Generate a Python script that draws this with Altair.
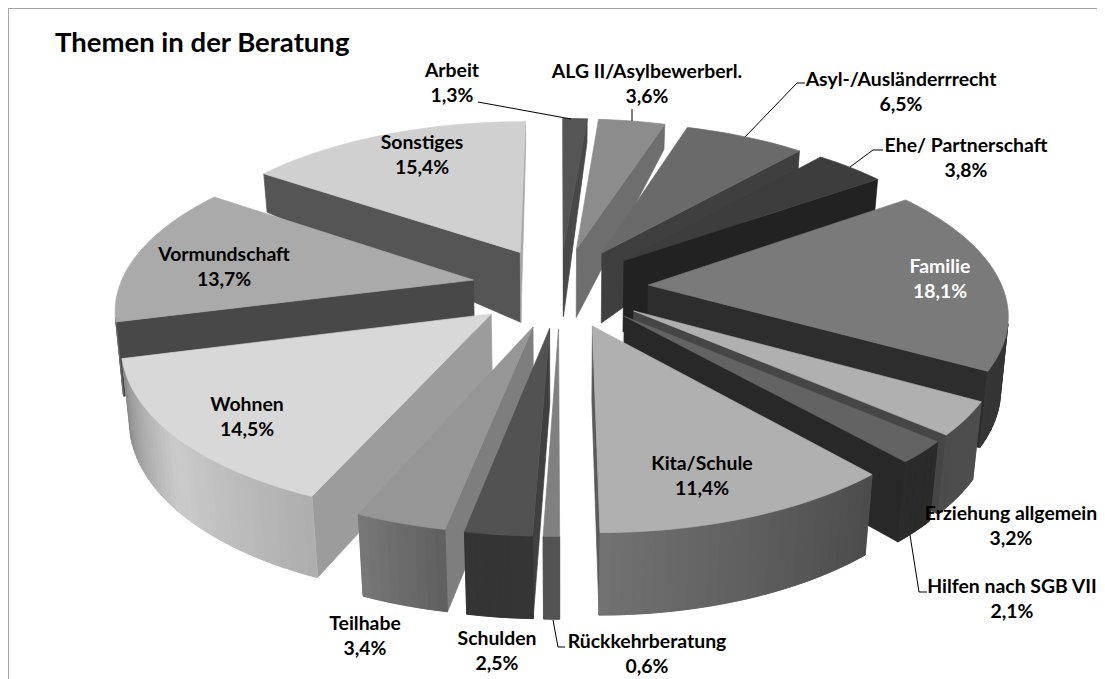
import math
import numpy as np
import pandas as pd
import altair as alt

names = ["Arbeit", "ALG II/Asylbewerberl.", "Asyl-/Ausländerrrecht", "Ehe/ Partnerschaft", "Familie",
         "Erziehung allgemein", "Hilfen nach SGB VII", "Kita/Schule", "Rückkehrberatung", "Schulden",
         "Teilhabe", "Wohnen", "Vormundschaft", "Sonstiges"]
values = [1.3, 3.6, 6.5, 3.8, 18.1, 3.2, 2.1, 11.4, 0.6, 2.5, 3.4, 14.5, 13.7, 15.4]
top_grey = [0x55, 0x8c, 0x6a, 0x3d, 0x7a, 0xb0, 0x63, 0xb0, 0x80, 0x52, 0x96, 0xd8, 0xaa, 0xd0]
start_cut_grey = [0x48, 0x70, 0x50, 0x30, 0x50, 0x60, 0x40, 0x60, 0x60, 0x40, 0x7e, 0x9c, 0x48, 0x55]
end_cut_grey = [0x48, 0x6e, 0x3f, 0x22, 0x2d, 0x46, 0x28, 0x5a, 0x60, 0x3c, 0x70, 0x90, 0x60, 0xa8]

label_x = [452, 647, 901, 966, 940, 1011, 1012, 702, 647, 497, 365, 247, 224, 422]
label_y = [71, 72, 80, 146, 267, 514, 587, 464, 642, 639, 624, 405, 255, 143]
label_ink = ["#000000"] * 14
label_ink[4] = "#ffffff"

leaders = [[(478, 102), (571, 119)],
           [(632, 109), (632, 121)],
           [(805, 83), (797, 83), (745, 137)],
           [(883, 150), (873, 150), (850, 167)],
           [(910, 535), (919, 592), (927, 592)],
           [(553, 620), (558, 647), (565, 647)]]

# projection of the exploded tilted pie
CX, CY, RX, RY, K, EXPL = 560, 287, 354, 161, 0.155, 0.25


def project(u, v):
    s = 1 / (1 - K * v)
    return CX + RX * u * s, CY + RY * v * s


def rim_depth(v):
    return float(np.interp(v, [-1.3, -0.77, -0.2, 1.3], [22, 39, 71, 83]))


def point(u, v):
    x, y = project(u, v)
    d = rim_depth(v)
    shrink = np.interp(v, [-1.3, 1.3], [0.008, 0.024])
    return (x, y), (x - (x - CX) * shrink, y + d)


def shade(deg):
    return float(np.interp(deg, [0, 90, 120, 139, 180, 191, 203, 230, 255, 270, 360],
                           [.5, .42, .44, .43, .65, .63, .8, .94, .63, .5, .5]))


def grey(g):
    g = int(max(0, min(255, round(g))))
    return f"#{g:02x}{g:02x}{g:02x}"


def area(p):
    return sum(p[i][0] * p[(i + 1) % len(p)][1] - p[(i + 1) % len(p)][0] * p[i][1] for i in range(len(p))) / 2


edges = np.cumsum([0] + values) / sum(values) * 360
slices = []
for i in range(len(values)):
    a0, a1 = edges[i], edges[i + 1]
    mid = math.radians((a0 + a1) / 2)
    bu, bv = EXPL * math.sin(mid), -EXPL * math.cos(mid)
    n = max(2, int((a1 - a0) / 1.5) + 1)
    angs = np.linspace(a0, a1, n + 1)
    tops, bots = [], []
    for a in angs:
        t = math.radians(a)
        pt, pb = point(bu + math.sin(t), bv - math.cos(t))
        tops.append(pt)
        bots.append(pb)
    tip_t, tip_b = point(bu, bv)
    polys = []
    sq = [tip_t, tops[0], bots[0], tip_b]
    if area(sq) < 0:
        polys.append((sq, grey(start_cut_grey[i])))
    eq = [tip_t, tops[-1], bots[-1], tip_b]
    if area(eq) > 0:
        polys.append((eq, grey(end_cut_grey[i])))
    quads = []
    for j in range(n):
        q = [tops[j], tops[j + 1], bots[j + 1], bots[j]]
        if area(q) < 0:
            quads.append((j, q))
    if quads:
        j0, j1 = quads[0][0], quads[-1][0] + 1
        back = tops[j0:j1 + 1] + bots[j0:j1 + 1][::-1]
        polys.append((back, grey(top_grey[i] * shade((angs[j0] + angs[j1]) / 2))))
    for j, q in quads:
        polys.append((q, grey(top_grey[i] * shade((angs[j] + angs[j + 1]) / 2))))
    polys.append(([tip_t] + tops, grey(top_grey[i])))
    slices.append((-math.cos(mid), polys))

rows = []
pid = 0
for _, polys in sorted(slices, key=lambda s: s[0]):
    for pts, col in polys:
        for k, (x, y) in enumerate(pts):
            rows.append({"poly": f"p{pid:05d}", "k": k, "x": x, "y": y, "c": col})
        pid += 1
faces = pd.DataFrame(rows)

X = alt.X("x:Q", scale=alt.Scale(domain=[8, 1097]), axis=None)
Y = alt.Y("y:Q", scale=alt.Scale(domain=[679, 8]), axis=None)

pie = alt.Chart(faces).mark_line(interpolate="linear-closed", strokeWidth=0.7, clip=True).encode(
    x=X, y=Y, detail="poly:N", order="k:Q",
    color=alt.Color("c:N", scale=None), fill=alt.Fill("c:N", scale=None))

lead_rows = []
for i, path in enumerate(leaders):
    for k, (x, y) in enumerate(path):
        lead_rows.append({"l": f"l{i}", "k": k, "x": x, "y": y})
lead = alt.Chart(pd.DataFrame(lead_rows)).mark_line(color="#000000", strokeWidth=1).encode(
    x=X, y=Y, detail="l:N", order="k:Q")

labels = pd.DataFrame({
    "x": label_x, "y": label_y, "ink": label_ink,
    "t": [f"{n}\n{str(v).replace('.', ',')}%" for n, v in zip(names, values)]})
text = alt.Chart(labels).mark_text(font="Lato", fontWeight="bold", fontSize=19.4, lineBreak="\n", lineHeight=25,
                                   baseline="middle", align="center", clip=True).encode(
    x=X, y=Y, text="t:N", color=alt.Color("ink:N", scale=None))

title = alt.Chart(pd.DataFrame({"x": [55], "y": [44], "t": ["Themen in der Beratung"]})).mark_text(
    font="Lato", fontWeight="bold", fontSize=27.5, align="left", baseline="middle", color="#000000").encode(
    x=X, y=Y, text="t:N")

border_h = alt.Chart(pd.DataFrame({"x": [8], "x2": [1097], "y": [8.5]})).mark_rule(color="#a6a6a6").encode(
    x=X, x2="x2:Q", y=Y)
border_v = alt.Chart(pd.DataFrame({"x": [8.5], "y": [8], "y2": [679]})).mark_rule(color="#a6a6a6").encode(
    x=X, y=Y, y2="y2:Q")

chart = alt.layer(border_h, border_v, pie, lead, text, title).properties(
    width=1089, height=671, padding=0, autosize=alt.AutoSizeParams(type="none"), background="white"
).configure_view(stroke=None)

chart.save("out.html", embed_options={"renderer": "svg", "actions": False})
